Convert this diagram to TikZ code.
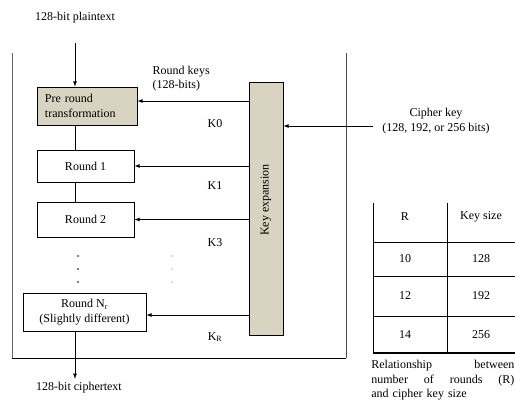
\documentclass[tikz,border=0pt]{standalone}
\usepackage{fontspec}
\setmainfont{Liberation Serif}
\usepackage{xcolor}
\usepackage{tikz}
\usetikzlibrary{calc, positioning}

\definecolor{boxfill}{RGB}{217,211,193}

\begin{document}
\begin{tikzpicture}[>=latex, x=1pt, y=-1pt, line width=0.8pt,
    font=\fontsize{12}{14.5}\selectfont,
    stage/.style={draw, inner sep=2pt, align=center}]
    \useasboundingbox (0,0) rectangle (515,405);

    % Khung ngoài
    \draw[black!60] (12,53) -- (12,358);
    \draw (12,358) -- (346,358);
    \draw[black!70] (346,358) -- (346,53);

    % Các khối vòng
    \node (plain) at (75,18) {128-bit plaintext};
    \node[stage, fill=boxfill, minimum height=38pt, text width=84pt,
          inner xsep=8pt, align=left] (pre) at (87,106) {Pre round\\transformation};
    \node[stage, minimum width=97pt, minimum height=32pt] (r1) at (85.5,166) {Round 1};
    \node[stage, minimum width=97pt, minimum height=35pt] (r2) at (85.5,219.5) {Round 2};
    \node[stage, minimum width=123pt, minimum height=38pt] (rn) at (84.5,312)
        {Round N\textsubscript{r}\\(Slightly different)};
    \node (ct) at (79,388) {128-bit ciphertext};

    % Mở rộng khoá
    \node[draw, fill=boxfill, minimum width=34pt, minimum height=253pt] (kexp) at (266,208.5) {};
    \node[rotate=90] (kexptxt) at (266,200) {Key expansion};
    \node[align=left, anchor=north west] (rk) at (149,62) {Round keys\\(128-bits)};
    \node (k0) at (215,124) {K0};
    \node (k1) at (215,186) {K1};
    \node (k3) at (215,243) {K3};
    \node (kr) at (215,337) {K\textsubscript{R}};
    \node[align=center] (ck) at (436,121) {Cipher key\\(128, 192, or 256 bits)};

    % Luồng dữ liệu
    \coordinate (flow) at (75,43);
    \draw[->] (flow) -- (flow |- pre.north);
    \draw (flow |- pre.south) -- (flow |- r1.north);
    \draw (flow |- r1.south) -- (flow |- r2.north);
    \draw[->] (flow |- rn.south) -- (flow |- ct.north);

    % Khoá vòng
    \coordinate (a0) at ([yshift=5pt]pre.east);
    \coordinate (an) at ([yshift=-3pt]rn.east);
    \draw[->] (a0 -| kexp.west) -- (a0);
    \draw[->] (r1.east -| kexp.west) -- (r1.east);
    \draw[->] (r2.east -| kexp.west) -- (r2.east);
    \draw[->] (an -| kexp.west) -- (an);
    \coordinate (ckin) at (373,126);
    \draw[->] (ckin) -- (ckin -| kexp.east);

    % Dấu chấm
    \foreach \y in {256,269,282} {
        \fill (78,\y) circle (0.8pt);
        \fill[gray!35] (172,\y) circle (1.2pt);
    }

    % Bảng
    \draw (373,203) -- (373,353);
    \draw (447,203) -- (447,353);
    \foreach \y in {242,276,316}
        \draw (373,\y) -- (515,\y);
    \draw[line width=1.5pt] (373,353) -- (515,353);
    \node (hR) at (405,217) {R};
    \node (hK) at (481,217) {Key size};
    \foreach \r/\k/\y in {10/128/259, 12/192/296, 14/256/335} {
        \node (r\r) at (405,\y) {\r};
        \node (k\k) at (481,\y) {\k};
    }
    \node[anchor=north west, text width=143pt, inner sep=0pt, align=left] (cap) at (371,360)
        {Relationship \hfill between\\number \hfill of \hfill rounds \hfill (R)\\and cipher key size};
\end{tikzpicture}
\end{document}
